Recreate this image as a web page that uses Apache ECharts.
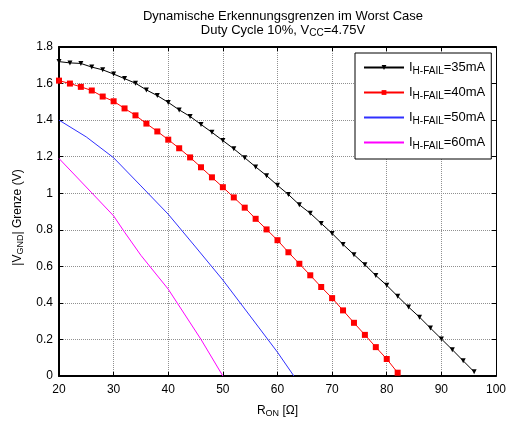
<!DOCTYPE html>
<html>
<head>
<meta charset="utf-8">
<script src="https://cdn.jsdelivr.net/npm/echarts@6/dist/echarts.min.js"></script>
<style>
  html, body { margin: 0; padding: 0; background: #fff; }
  #chart { width: 509px; height: 423px; }
</style>
</head>
<body>
<div id="chart"></div>
<script>
// R_ON sample points (Ohm) and detection limits |V_GND| (V)
const r35 = [20,22,24,26,28,30,32,34,36,38,40,42,44,46,48,50,52,54,56,58,60,62,64,66,68,70,72,74,76,78,80,82,84,86,88,90,92,94,96];
const v35 = [1.720,1.713,1.710,1.690,1.675,1.652,1.627,1.602,1.565,1.534,1.497,1.456,1.420,1.376,1.333,1.288,1.243,1.194,1.144,1.096,1.043,0.993,0.937,0.890,0.835,0.780,0.720,0.664,0.609,0.550,0.496,0.436,0.377,0.322,0.262,0.203,0.144,0.083,0.023];

const r40 = [20,22,24,26,28,30,32,34,36,38,40,42,44,46,48,50,52,54,56,58,60,62,64,66,68,70,72,74,76,78,80,82];
const v40 = [1.616,1.600,1.582,1.562,1.529,1.503,1.464,1.426,1.381,1.338,1.293,1.246,1.196,1.142,1.087,1.033,0.977,0.921,0.860,0.802,0.743,0.677,0.614,0.551,0.487,0.426,0.359,0.291,0.225,0.158,0.093,0.018];

const r50 = [20,25,30,35,40,45,50,55,60,63];
const v50 = [1.400,1.308,1.194,1.040,0.885,0.706,0.525,0.328,0.130,0.000];

const r60 = [20,26,30,32,35,40,46,50];
const v60 = [1.190,1.002,0.876,0.787,0.660,0.475,0.200,0.000];

const seriesNames = ['35mA', '40mA', '50mA', '60mA'];
const xTicks = { min: 20, max: 100, interval: 10 };
const yTicks = { min: 0, max: 1.8, interval: 0.2 };

const FONT = '"Liberation Sans", Arial, Helvetica, sans-serif';
const pairs = (xs, ys) => xs.map((x, i) => [x, ys[i]]);
const subStyle = size => ({ fontFamily: FONT, fontSize: size, color: '#000', padding: [Math.round(size * 0.7), 0, 0, 0] });

const chart = echarts.init(document.getElementById('chart'), null, { renderer: 'canvas' });

const gridLine = { show: true, lineStyle: { color: '#909090', type: [1, 1], width: 1 } };

chart.setOption({
  backgroundColor: '#fff',
  animation: false,
  title: {
    text: 'Dynamische Erkennungsgrenzen im Worst Case\nDuty Cycle 10%, V{sub|CC}=4.75V',
    left: 278,
    top: 4,
    textAlign: 'center',
    textStyle: {
      fontFamily: FONT, fontSize: 13, fontWeight: 'normal', color: '#000', lineHeight: 14,
      rich: { sub: subStyle(10) }
    }
  },
  legend: {
    orient: 'vertical',
    left: 355,
    top: 53,
    padding: [8, 6, 8, 8],
    itemGap: 10,
    itemWidth: 40,
    itemHeight: 6,
    backgroundColor: '#fff',
    borderColor: '#000',
    borderWidth: 1,
    borderRadius: 0,
    data: [
      { name: seriesNames[0] },
      { name: seriesNames[1] },
      { name: seriesNames[2], itemStyle: { opacity: 0 } },
      { name: seriesNames[3], itemStyle: { opacity: 0 } }
    ],
    formatter: name => 'I{sub|H-FAIL}=' + name,
    textStyle: {
      fontFamily: FONT, fontSize: 13, color: '#000',
      rich: { sub: subStyle(10) }
    }
  },
  grid: { left: 59, top: 47, right: 10, bottom: 42, containLabel: false },
  xAxis: [
    {
      type: 'value', position: 'bottom', ...xTicks,
      name: 'R{sub|ON} [Ω]', nameLocation: 'middle', nameGap: 27,
      nameTextStyle: {
        fontFamily: FONT, fontSize: 12, color: '#000',
        rich: { sub: subStyle(9) }
      },
      axisLine: { show: true, onZero: false, lineStyle: { color: '#000', width: 2 } },
      axisTick: { show: true, inside: true, length: 4, lineStyle: { color: '#000' } },
      axisLabel: { fontFamily: FONT, fontSize: 12, color: '#000', margin: 8 },
      splitLine: gridLine
    },
    {
      type: 'value', position: 'top', ...xTicks,
      axisLine: { show: true, onZero: false, lineStyle: { color: '#000', width: 2 } },
      axisTick: { show: true, inside: true, length: 4, lineStyle: { color: '#000' } },
      axisLabel: { show: false },
      splitLine: { show: false }
    }
  ],
  yAxis: [
    {
      type: 'value', position: 'left', ...yTicks,
      name: '|V{sub|GND}| Grenze (V)', nameLocation: 'middle', nameGap: 33,
      nameTextStyle: {
        fontFamily: FONT, fontSize: 12, color: '#000', padding: [0, 12, 0, 0],
        rich: { sub: subStyle(9) }
      },
      axisLine: { show: true, onZero: false, lineStyle: { color: '#000', width: 2 } },
      axisTick: { show: true, inside: true, length: 4, lineStyle: { color: '#000' } },
      axisLabel: { fontFamily: FONT, fontSize: 12, color: '#000', margin: 6 },
      splitLine: gridLine
    },
    {
      type: 'value', position: 'right', ...yTicks,
      axisLine: { show: true, onZero: false, lineStyle: { color: '#000', width: 1 } },
      axisTick: { show: true, inside: true, length: 4, lineStyle: { color: '#000' } },
      axisLabel: { show: false },
      splitLine: { show: false }
    }
  ],
  series: [
    {
      name: seriesNames[0], type: 'line', data: pairs(r35, v35),
      symbol: 'triangle', symbolRotate: 180, symbolSize: 5,
      lineStyle: { color: '#000', width: 1 }, itemStyle: { color: '#000' }
    },
    {
      name: seriesNames[1], type: 'line', data: pairs(r40, v40),
      symbol: 'rect', symbolSize: 6,
      lineStyle: { color: '#ff0000', width: 1 }, itemStyle: { color: '#ff0000' }
    },
    {
      name: seriesNames[2], type: 'line', data: pairs(r50, v50),
      symbol: 'none',
      lineStyle: { color: '#3030ff', width: 1 }, itemStyle: { color: '#3030ff' }
    },
    {
      name: seriesNames[3], type: 'line', data: pairs(r60, v60),
      symbol: 'none',
      lineStyle: { color: '#ff00ff', width: 1 }, itemStyle: { color: '#ff00ff' }
    }
  ]
});
</script>
</body>
</html>
